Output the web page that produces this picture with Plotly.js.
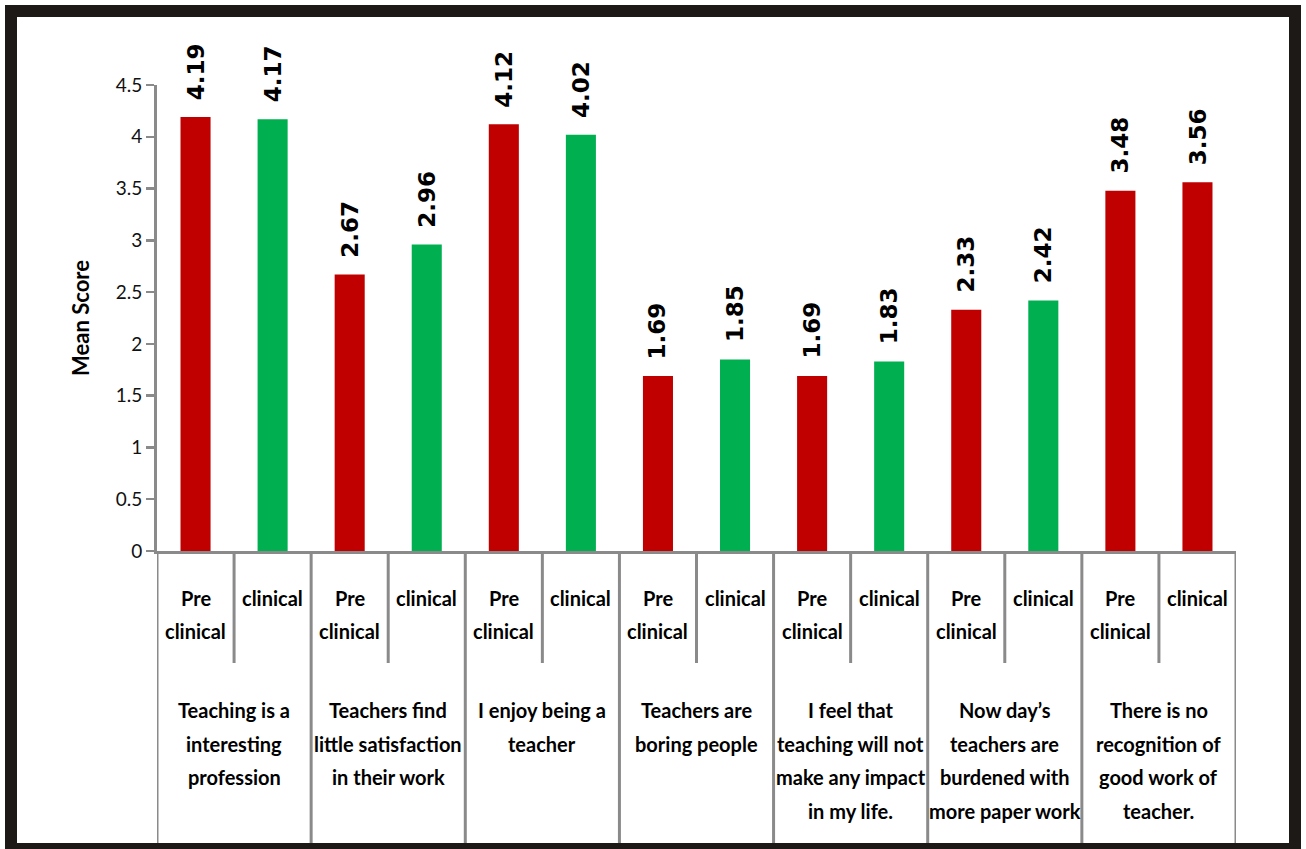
<!DOCTYPE html>
<html>
<head>
<meta charset="utf-8">
<script src="https://cdn.plot.ly/plotly-3.0.1.min.js"></script>
<style>html,body{margin:0;padding:0;background:#fff;}#chart{width:1306px;height:849px;}</style>
</head>
<body>
<div id="chart"></div>
<script>
const groupLabels = [
  "Teaching is a<br>interesting<br>profession",
  "Teachers find<br>little satisfaction<br>in their work",
  "I enjoy being a<br>teacher",
  "Teachers are<br>boring people",
  "I feel that<br>teaching will not<br>make any impact<br>in my life.",
  "Now day’s<br>teachers are<br>burdened with<br>more paper work",
  "There is no<br>recognition of<br>good work of<br>teacher."
];
const subLabels = ["Pre<br>clinical", "clinical"];
const preClinical = [4.19, 2.67, 4.12, 1.69, 1.69, 2.33, 3.48];
const clinical = [4.17, 2.96, 4.02, 1.85, 1.83, 2.42, 3.56];
const preColors = ["#C00000","#C00000","#C00000","#C00000","#C00000","#C00000","#C00000"];
const clinicalColors = ["#00B050","#00B050","#00B050","#00B050","#00B050","#00B050","#C00000"];
const yTicks = [0, 0.5, 1, 1.5, 2, 2.5, 3, 3.5, 4, 4.5];

// layout constants (pixels)
const W = 1306, H = 849;
const mL = 157, mR = 70, mT = 85, mB = 298;
const plotW = W - mL - mR, plotH = H - mT - mB;
const pxToPaperY = px => (H - mB - px) / plotH;   // px measured from top of page
const pxToPaperX = px => (px - mL) / plotW;

const xPre = groupLabels.map((_, g) => 2 * g);
const xCli = groupLabels.map((_, g) => 2 * g + 1);

const traces = [
  {type: 'bar', x: xPre, y: preClinical, width: 0.39, marker: {color: preColors}, hoverinfo: 'y', name: 'Pre clinical'},
  {type: 'bar', x: xCli, y: clinical, width: 0.39, marker: {color: clinicalColors}, hoverinfo: 'y', name: 'clinical'}
];

const annotations = [];
const valFont = {family: 'DejaVu Sans', size: 23, weight: 700, color: '#000'};
function addValue(x, v) {
  annotations.push({x: x, y: v, xref: 'x', yref: 'y', text: v.toFixed(2), textangle: -90,
    showarrow: false, xanchor: 'center', yanchor: 'bottom', yshift: 15, font: valFont});
}
xPre.forEach((x, i) => addValue(x, preClinical[i]));
xCli.forEach((x, i) => addValue(x, clinical[i]));

const labFont = {family: 'Lato', size: 20, weight: 700, color: '#000'};
const allX = [];
groupLabels.forEach((_, g) => { allX.push(2 * g, 2 * g + 1); });
allX.forEach((x, i) => {
  subLabels[i % 2].split('<br>').forEach((line, k) => {
    annotations.push({x: x, y: 0, xref: 'x', yref: 'paper', text: line, showarrow: false,
      xanchor: 'center', yanchor: 'middle', yshift: -(47 + 33 * k), font: labFont});
  });
});
groupLabels.forEach((lab, g) => {
  lab.split('<br>').forEach((line, k) => {
    annotations.push({x: 2 * g + 0.5, y: 0, xref: 'x', yref: 'paper', text: line, showarrow: false,
      xanchor: 'center', yanchor: 'middle', yshift: -(159 + 33.5 * k), font: labFont});
  });
});

const shapes = [];
const grey = '#8a8a8a';
// outer dividers
for (let g = 0; g <= groupLabels.length; g++) {
  shapes.push({type: 'line', xref: 'x', yref: 'paper', x0: 2 * g - 0.5, x1: 2 * g - 0.5,
    y0: 0, y1: pxToPaperY(846), line: {color: grey, width: 3}});
}
// inner dividers
groupLabels.forEach((_, g) => {
  shapes.push({type: 'line', xref: 'x', yref: 'paper', x0: 2 * g + 0.5, x1: 2 * g + 0.5,
    y0: 0, y1: pxToPaperY(663), line: {color: grey, width: 3}});
});
// outer black frame
shapes.push({type: 'rect', xref: 'paper', yref: 'paper',
  x0: pxToPaperX(11), x1: pxToPaperX(1295), y0: pxToPaperY(849), y1: pxToPaperY(11),
  line: {color: '#1d1917', width: 12}, fillcolor: 'rgba(0,0,0,0)', layer: 'above'});

const layout = {
  width: W, height: H,
  margin: {l: mL, r: mR, t: mT, b: mB},
  paper_bgcolor: '#fff', plot_bgcolor: '#fff',
  showlegend: false,
  barmode: 'overlay',
  xaxis: {range: [-0.5, 2 * groupLabels.length - 0.5], showticklabels: false, showgrid: false,
    zeroline: false, showline: true, linecolor: grey, linewidth: 3, ticks: '', fixedrange: true},
  yaxis: {range: [0, 4.5], tickvals: yTicks, ticktext: yTicks.map(String), showgrid: false, zeroline: false,
    showline: true, linecolor: grey, linewidth: 3, ticks: 'outside', ticklen: 8, tickwidth: 2.5, tickcolor: grey,
    tickfont: {family: 'Lato', size: 19, color: '#111'},
    title: {text: '<b>Mean Score</b>', font: {family: 'Lato', size: 22, color: '#000'}, standoff: 20},
    automargin: false, fixedrange: true},
  annotations: annotations,
  shapes: shapes
};

Plotly.newPlot('chart', traces, layout, {displayModeBar: false, staticPlot: true});
</script>
</body>
</html>
